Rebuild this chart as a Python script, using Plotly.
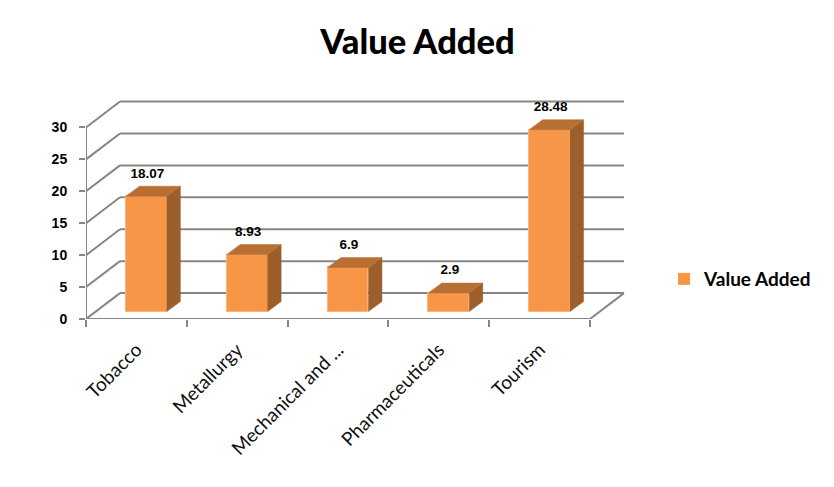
import plotly.graph_objects as go

categories = ["Tobacco", "Metallurgy", "Mechanical and ...", "Pharmaceuticals", "Tourism"]
values = [18.07, 8.93, 6.9, 2.9, 28.48]
value_labels = ["18.07", "8.93", "6.9", "2.9", "28.48"]
y_ticks = [0, 5, 10, 15, 20, 25, 30]
series_name = "Value Added"

# pseudo-3D geometry, in axis units
WALL_DX, WALL_DY = 0.337, 4.06
BAR_OFF_X, BAR_OFF_Y = 0.099, 1.17
BAR_HALF = 0.203
BAR_DX, BAR_DY = 0.134, 1.56
LABEL_GAP = 3.45
GRID = "#868686"
FRONT, SIDE, TOP = "#F79646", "#9C5F2C", "#B86F33"
N = len(categories)
centers = [i + 0.5 + BAR_OFF_X for i in range(N)]

fig = go.Figure()

fig.add_trace(go.Bar(
    x=centers, y=values, base=BAR_OFF_Y, width=2 * BAR_HALF, name=series_name,
    marker=dict(color=FRONT, line=dict(color="#FBB37C", width=1)),
    showlegend=False, hoverinfo="skip",
))

for c, v in zip(centers, values):
    t = v + BAR_OFF_Y
    r = c + BAR_HALF
    l = c - BAR_HALF
    fig.add_trace(go.Scatter(
        x=[r, r + BAR_DX, r + BAR_DX, r, r],
        y=[BAR_OFF_Y, BAR_OFF_Y + BAR_DY, t + BAR_DY, t, BAR_OFF_Y],
        mode="lines", fill="toself", fillcolor=SIDE, line=dict(color=SIDE, width=0.5),
        showlegend=False, hoverinfo="skip",
    ))
    fig.add_trace(go.Scatter(
        x=[l, l + BAR_DX, r + BAR_DX, r, l],
        y=[t, t + BAR_DY, t + BAR_DY, t, t],
        mode="lines", fill="toself", fillcolor=TOP, line=dict(color=TOP, width=0.5),
        showlegend=False, hoverinfo="skip",
    ))

fig.add_trace(go.Scatter(
    x=[c + 0.01 for c in centers],
    y=[v + BAR_OFF_Y + LABEL_GAP for v in values],
    text=value_labels, mode="text", textposition="middle center",
    textfont=dict(family="Liberation Sans", size=13.5, color="#000000", weight="bold"),
    showlegend=False, hoverinfo="skip",
))

# legend entry
fig.add_trace(go.Scatter(
    x=[None], y=[None], mode="markers", name=series_name,
    marker=dict(symbol="square", size=12, color=FRONT), hoverinfo="skip",
))

# invisible trace carries the tick marks of the category boundaries
fig.add_trace(go.Scatter(x=[0, N], y=[0, 0], xaxis="x2", mode="none",
                         showlegend=False, hoverinfo="skip"))

shapes = []
line = dict(color=GRID, width=2)
for t in y_ticks:
    shapes.append(dict(type="line", xref="x", yref="y", layer="below", x0=0, y0=t,
                       x1=WALL_DX, y1=t + WALL_DY, line=line))
    shapes.append(dict(type="line", xref="x", yref="y", layer="below", x0=WALL_DX,
                       y0=t + WALL_DY, x1=N + WALL_DX, y1=t + WALL_DY, line=line))
shapes.append(dict(type="line", xref="x", yref="y", layer="below", x0=0, y0=0,
                   x1=N, y1=0, line=line))
shapes.append(dict(type="line", xref="x", yref="y", layer="below", x0=N, y0=0,
                   x1=N + WALL_DX, y1=WALL_DY, line=line))
shapes.append(dict(type="line", xref="x", yref="y", layer="below", x0=0, y0=0,
                   x1=0, y1=y_ticks[-1], line=line))
fig.update_layout(shapes=shapes)

x_range = [0, 5.357]
fig.update_layout(
    width=818, height=471, autosize=False,
    margin=dict(l=78, r=200, t=92, b=159.5),
    paper_bgcolor="#FFFFFF", plot_bgcolor="#FFFFFF",
    title=dict(text="Value Added", x=0.5006, xanchor="center", y=0.928, yanchor="middle",
               font=dict(family="Lato", size=34.5, color="#000000", weight=900)),
    xaxis=dict(range=x_range, tickmode="array", tickvals=[i + 0.5 for i in range(N)],
               ticktext=categories, tickangle=-45, ticks="", showgrid=False, zeroline=False,
               showline=False, ticklabelstandoff=15,
               tickfont=dict(family="Lato", size=19, color="#111111")),
    xaxis2=dict(range=x_range, overlaying="x", side="bottom", anchor="y", tickmode="array",
                tickvals=list(range(N + 1)), showticklabels=False, ticks="outside",
                ticklen=7, tickwidth=2, tickcolor=GRID, showgrid=False, zeroline=False,
                showline=False),
    yaxis=dict(range=[0, 34.3], tickmode="array", tickvals=y_ticks, ticks="outside",
               ticklen=6, tickwidth=2, tickcolor=GRID, showgrid=False, zeroline=False,
               showline=False, ticklabelstandoff=9,
               tickfont=dict(family="Liberation Sans", size=14, color="#000000", weight="bold")),
    legend=dict(xref="container", yref="container", x=0.813, y=0.4246, xanchor="left",
                yanchor="middle", indentation=-9,
                font=dict(family="Lato", size=19, color="#000000", weight="bold"),
                bgcolor="rgba(0,0,0,0)"),
    bargap=0,
)

fig.write_html("out.html")
